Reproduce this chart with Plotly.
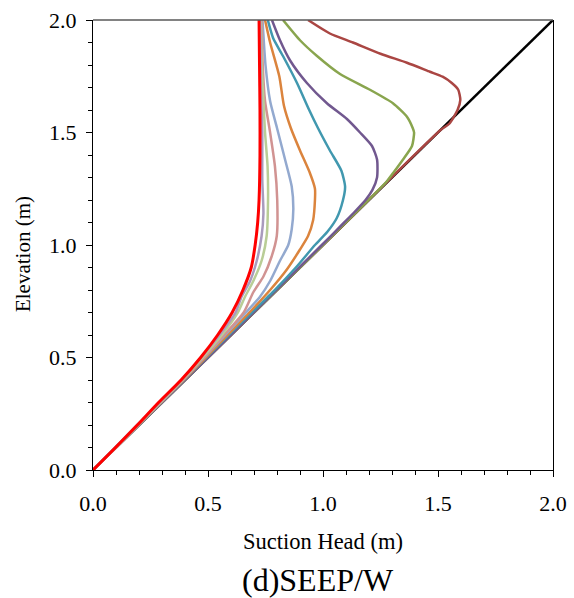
import plotly.graph_objects as go

# Hydrostatic reference line
hydro_elev = [0.0, 2.0]
hydro_suct = [0.0, 2.0]

# Suction profiles (elevation in m, suction head in m)
p1_elev = [0.0, 0.5, 1.0, 1.51, 1.54, 1.60, 1.645, 1.69, 1.72, 1.748, 1.77, 1.81, 1.85, 1.90, 1.94, 2.0]
p1_suct = [0.0, 0.5, 1.0, 1.51, 1.55, 1.585, 1.597, 1.588, 1.56, 1.52, 1.465, 1.365, 1.25, 1.13, 1.03, 0.935]

p2_elev = [0.0, 0.5, 1.0, 1.28, 1.32, 1.38, 1.44, 1.50, 1.52, 1.57, 1.63, 1.69, 1.76, 1.84, 1.91, 2.0]
p2_suct = [0.0, 0.5, 1.0, 1.275, 1.305, 1.348, 1.387, 1.396, 1.39, 1.365, 1.304, 1.204, 1.074, 0.974, 0.90, 0.826]

p3_elev = [0.0, 0.5, 1.0, 1.10, 1.15, 1.20, 1.245, 1.30, 1.38, 1.44, 1.50, 1.56, 1.63, 1.72, 1.82, 1.91, 2.0]
p3_suct = [0.0, 0.5, 0.995, 1.092, 1.14, 1.185, 1.215, 1.235, 1.235, 1.213, 1.161, 1.104, 1.017, 0.93, 0.857, 0.813, 0.778]

p4_elev = [0.0, 0.2, 0.4, 0.6, 0.7, 0.8, 0.9, 1.0, 1.06, 1.12, 1.2, 1.26, 1.33, 1.42, 1.52, 1.6, 1.72, 1.84, 1.92, 2.0]
p4_suct = [0.0, 0.198, 0.396, 0.59, 0.69, 0.79, 0.882, 0.965, 1.02, 1.06, 1.087, 1.096, 1.08, 1.03, 0.978, 0.94, 0.887, 0.826, 0.783, 0.76]

p5_elev = [0.0, 0.2, 0.4, 0.6, 0.7, 0.8, 0.89, 0.98, 1.04, 1.11, 1.2, 1.25, 1.32, 1.42, 1.52, 1.62, 1.75, 1.9, 2.0]
p5_suct = [0.0, 0.197, 0.394, 0.585, 0.68, 0.77, 0.842, 0.9, 0.935, 0.957, 0.965, 0.965, 0.943, 0.9, 0.86, 0.83, 0.81, 0.77, 0.748]

p6_elev = [0.0, 0.2, 0.4, 0.6, 0.7, 0.77, 0.84, 0.93, 1.0, 1.07, 1.16, 1.26, 1.38, 1.52, 1.64, 1.8, 2.0]
p6_suct = [0.0, 0.196, 0.392, 0.575, 0.665, 0.726, 0.77, 0.813, 0.849, 0.864, 0.871, 0.864, 0.835, 0.80, 0.77, 0.75, 0.737]

p7_elev = [0.0, 0.2, 0.4, 0.6, 0.7, 0.79, 0.86, 0.95, 1.04, 1.2, 1.35, 1.5, 1.64, 1.8, 2.0]
p7_suct = [0.0, 0.195, 0.39, 0.57, 0.655, 0.697, 0.741, 0.777, 0.799, 0.801, 0.791, 0.77, 0.748, 0.738, 0.733]

p8_elev = [0.0, 0.2, 0.4, 0.6, 0.7, 0.77, 0.84, 0.93, 1.04, 1.2, 1.35, 1.5, 1.64, 1.8, 2.0]
p8_suct = [0.0, 0.194, 0.388, 0.56, 0.63, 0.661, 0.697, 0.733, 0.755, 0.761, 0.759, 0.748, 0.741, 0.733, 0.73]

p9_elev = [0.0, 0.2, 0.4, 0.6, 0.7, 0.77, 0.84, 0.93, 1.04, 1.14, 1.29, 1.5, 1.7, 2.0]
p9_suct = [0.0, 0.192, 0.385, 0.55, 0.62, 0.646, 0.683, 0.712, 0.733, 0.741, 0.736, 0.736, 0.73, 0.727]

p10_elev = [0.0, 0.1, 0.2, 0.3, 0.4, 0.5, 0.6, 0.7, 0.8, 0.9, 1.0, 1.1, 1.2, 1.4, 1.6, 1.8, 2.0]
p10_suct = [0.0, 0.098, 0.193, 0.285, 0.383, 0.468, 0.542, 0.605, 0.652, 0.688, 0.705, 0.716, 0.722, 0.726, 0.726, 0.724, 0.722]

profiles = [
    (p1_suct, p1_elev, "#AA4643", 2.5),
    (p2_suct, p2_elev, "#89A54E", 2.5),
    (p3_suct, p3_elev, "#71588F", 2.5),
    (p4_suct, p4_elev, "#4198AF", 2.5),
    (p5_suct, p5_elev, "#DB843D", 2.5),
    (p6_suct, p6_elev, "#93A9CF", 2.5),
    (p7_suct, p7_elev, "#D19392", 2.5),
    (p8_suct, p8_elev, "#B9CD96", 2.5),
    (p9_suct, p9_elev, "#A99BBD", 2.5),
    (p10_suct, p10_elev, "#FF0000", 3.0),
]

tick_vals = [0.0, 0.5, 1.0, 1.5, 2.0]
tick_text = ["0.0", "0.5", "1.0", "1.5", "2.0"]

FONT = "Liberation Serif"

fig = go.Figure()
fig.add_trace(go.Scatter(x=hydro_suct, y=hydro_elev, mode="lines",
                         line=dict(color="black", width=2.5), showlegend=False))
for xs, ys, col, w in profiles:
    fig.add_trace(go.Scatter(x=xs, y=ys, mode="lines",
                             line=dict(color=col, width=w, shape="spline", smoothing=0.6),
                             showlegend=False))

axis_common = dict(
    range=[0, 2], tickvals=tick_vals, ticktext=tick_text,
    ticks="outside", ticklen=6, tickwidth=1, tickcolor="black",
    showline=True, linecolor="black", linewidth=1.3,
    showgrid=False, zeroline=False, automargin=False,
    tickfont=dict(family=FONT, size=22, color="black"),
    minor=dict(dtick=0.1, ticks="outside", ticklen=4, tickwidth=1, tickcolor="black"),
)

fig.update_layout(
    width=574, height=598, autosize=False,
    font=dict(family=FONT, color="black"),
    margin=dict(l=93, r=21, t=20, b=128, pad=0),
    paper_bgcolor="white", plot_bgcolor="white",
    xaxis=dict(**axis_common, ticklabelstandoff=7),
    yaxis=dict(**axis_common, mirror=True, ticklabelstandoff=5),
    shapes=[dict(type="line", xref="paper", yref="paper", x0=0, x1=1, y0=1, y1=1,
                 line=dict(color="#595959", width=1.3))],
    annotations=[
        dict(text="Suction Head (m)", xref="paper", yref="paper", x=0.5, y=-0.158,
             showarrow=False, xanchor="center", yanchor="middle",
             font=dict(family=FONT, size=22.5, color="black")),
        dict(text="Elevation (m)", xref="paper", yref="paper", x=-0.152, y=0.48,
             showarrow=False, xanchor="center", yanchor="middle", textangle=-90,
             font=dict(family=FONT, size=21, color="black")),
        dict(text="(d)SEEP/W", xref="paper", yref="paper", x=0.489, y=-0.244,
             showarrow=False, xanchor="center", yanchor="middle",
             font=dict(family=FONT, size=32, color="black")),
    ],
)

fig.write_html("out.html", config={"responsive": False})
